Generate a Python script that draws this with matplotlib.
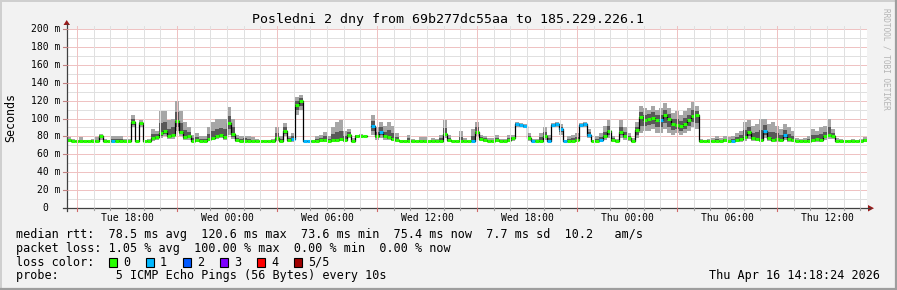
import numpy as np
import matplotlib
matplotlib.use("Agg")
import matplotlib.pyplot as plt
from matplotlib.patches import Rectangle, Polygon
from matplotlib.lines import Line2D
import matplotlib.transforms as mtrans

W, H, DPI = 897, 290, 100

# ---------------- data ----------------
title = "Posledni 2 dny from 69b277dc55aa to 185.229.226.1"
y_label = "Seconds"
window_hours = 48.0
start_hour = 14.4            # Tue 14:24
step_hours = 0.24            # one sample every 14.4 min
tick_labels = ["Tue 18:00", "Wed 00:00", "Wed 06:00", "Wed 12:00",
               "Wed 18:00", "Thu 00:00", "Thu 06:00", "Thu 12:00"]
first_label_hour = 18.0
y_tick_values = [0, 20, 40, 60, 80, 100, 120, 140, 160, 180, 200]
y_tick_labels = ["0", "20 m", "40 m", "60 m", "80 m", "100 m", "120 m",
                 "140 m", "160 m", "180 m", "200 m"]

nan = float("nan")
median_ms = [
    76, 75, 74.5, 74.5, 74.5, 74.5, 74.5, 74.5, 80, 75,
    74.5, 74.5, 74.5, 74.5, 74.5, 75, 96, 74.5, 95, 74.5,
    75, 78, 79, 84, 86, 81, 82, 97, 85, 79,
    80, 75, 76, 75, 75, 77, 78, 80, 82, 79,
    95, 83, 76, 74.5, 75, 74.5, 74.5, 74.5, 74.5, 74.5,
    74.5, 74.5, 78, 75, 86, 76, 77, 115, 120, 74.5,
    74.5, 74.5, 74.5, 75.5, 76, 75, 76, 76, 77, 76,
    82, 75, 81, 81, 81, nan, 92, 80, 85, 80,
    79, 77, 76, 74.5, 74.5, 74.5, 74.5, 74.5, 74.5, 74.5,
    74.5, 74.5, 74.5, 75, 83, 76, 74.5, 74.5, 74.5, 74.5,
    74.5, 75, 85, 77, 76, 75, 74.5, 76, 74.5, 74.5,
    76, 78, 94, 93, 92, 78, 74.5, 74.5, 75, 80,
    75, 93, 94, 88, 74.5, 74.5, 75, 76, 93, 94,
    82, 74.5, 74.5, 76, 80, 86, 76, 74.5, 85, 80,
    78, 75, 87, 102, 98, 100, 101, 98, 98, 104,
    99, 94, 93, 92, 94, 98, 103, 104, 74.5, 74.5,
    74.5, 74.5, 74.5, 74.5, 75.5, 74.5, 75, 75.5, 77, 79,
    85, 78, 77, 76, 86, 78, 76, 77, 76, 82,
    77, 76, 74.5, 74.5, 74.5, 75, 76, 77, 76, 80,
    82, 81, 74.5, 74.5, 74.5, 74.5, 74.5, 74.5, 74.5, 75.5,
]
smoke_hi_ms = [
    79, 77, 76, 79, 76, 76, 77, 79, 83, 77,
    76, 80, 81, 80, 77, 77, 104, 76, 98, 76,
    77, 88, 86, 108, 108, 98, 100, 119, 108, 96,
    90, 82, 84, 80, 80, 90, 96, 99, 99, 100,
    113, 100, 82, 81, 81, 80, 79, 77, 76, 76,
    76, 77, 90, 80, 95, 80, 84, 124, 126, 76,
    76, 76, 80, 82, 85, 80, 90, 96, 98, 86,
    88, 78, 82, 83, 84, nan, 104, 90, 96, 92,
    96, 92, 84, 76, 76, 82, 77, 76, 79, 79,
    76, 78, 77, 82, 98, 82, 76, 76, 86, 78,
    76, 88, 96, 82, 80, 78, 78, 82, 77, 77,
    82, 82, 96, 95, 94, 84, 77, 77, 84, 90,
    82, 95, 96, 94, 76, 80, 82, 84, 95, 96,
    88, 76, 80, 84, 92, 98, 80, 77, 98, 90,
    84, 78, 96, 114, 112, 110, 114, 110, 112, 117,
    112, 106, 108, 104, 108, 112, 118, 114, 77, 76,
    77, 78, 80, 78, 80, 79, 80, 84, 86, 96,
    98, 92, 94, 100, 100, 94, 96, 92, 88, 94,
    90, 86, 78, 77, 78, 80, 88, 86, 90, 92,
    100, 88, 78, 77, 76, 76, 77, 76, 77, 79,
]
smoke_lo_ms = [
    74, 73.8, 73.8, 73.8, 73.8, 73.8, 73.8, 73.8, 76, 73.8,
    73.8, 73.8, 73.8, 73.8, 73.8, 73.8, 90, 73.8, 90, 73.8,
    73.8, 75, 76, 78, 80, 77, 77, 86, 80, 76,
    76, 74, 74, 73.8, 73.8, 75, 76, 77, 78, 76,
    82, 77, 74, 73.8, 73.8, 73.8, 73.8, 73.8, 73.8, 73.8,
    73.8, 73.8, 75, 73.8, 80, 74, 74, 104, 110, 73.8,
    73.8, 73.8, 73.8, 74, 74, 73.8, 74, 74, 75, 74,
    78, 74, 79, 79, 79, nan, 82, 76, 78, 76,
    76, 75, 74, 73.8, 73.8, 73.8, 73.8, 73.8, 73.8, 73.8,
    73.8, 73.8, 73.8, 73.8, 78, 74, 73.8, 73.8, 73.8, 73.8,
    73.8, 73.8, 80, 75, 74, 73.8, 73.8, 74, 73.8, 73.8,
    74, 75, 90, 90, 89, 75, 73.8, 73.8, 74, 76,
    74, 90, 91, 82, 73.8, 73.8, 74, 74, 90, 91,
    78, 73.8, 73.8, 74, 76, 78, 74, 73.8, 78, 76,
    75, 74, 78, 84, 86, 86, 88, 84, 84, 88,
    84, 82, 84, 82, 84, 86, 90, 88, 73.8, 73.8,
    73.8, 73.8, 73.8, 73.8, 74, 73.8, 73.8, 74, 74, 75,
    77, 75, 75, 74, 78, 75, 74, 74, 74, 76,
    74, 74, 73.8, 73.8, 73.8, 73.8, 74, 74, 74, 76,
    77, 77, 73.8, 73.8, 73.8, 73.8, 73.8, 73.8, 73.8, 74,
]
lost_pings = [
    0, 0, 0, 0, 0, 0, 0, 0, 0, 0, 0, 1, 0, 0, 0, 0, 0, 0, 0, 0,
    0, 0, 0, 0, 0, 0, 0, 0, 0, 0, 0, 0, 0, 0, 0, 0, 0, 0, 0, 0,
    0, 0, 0, 0, 0, 0, 0, 0, 0, 0, 0, 0, 0, 0, 0, 0, 1, 0, 0, 1,
    1, 0, 0, 0, 0, 0, 0, 0, 0, 0, 0, 0, 0, 0, 0, 5, 1, 0, 1, 0,
    0, 0, 0, 0, 0, 0, 0, 0, 0, 0, 0, 0, 0, 0, 0, 0, 0, 0, 0, 0,
    0, 1, 0, 0, 0, 0, 0, 0, 0, 0, 0, 0, 1, 1, 1, 0, 1, 0, 0, 0,
    1, 1, 1, 1, 1, 0, 0, 0, 1, 1, 1, 0, 0, 1, 0, 0, 0, 0, 0, 0,
    0, 0, 0, 0, 0, 0, 0, 0, 1, 0, 0, 0, 0, 0, 0, 0, 0, 0, 0, 0,
    0, 0, 0, 0, 0, 0, 1, 0, 0, 0, 0, 0, 0, 0, 1, 0, 0, 0, 0, 1,
    0, 0, 0, 0, 0, 0, 0, 0, 0, 0, 0, 0, 0, 0, 0, 0, 0, 0, 0, 0,
]
loss_labels = ["0", "1", "2", "3", "4", "5/5"]
loss_colors = ["#26ff00", "#00b8ff", "#0059ff", "#7e00ff", "#ff0000", "#a00000"]

legend_lines = [
    "median rtt:  78.5 ms avg  120.6 ms max  73.6 ms min  75.4 ms now  7.7 ms sd  10.2   am/s",
    "packet loss: 1.05 % avg  100.00 % max  0.00 % min  0.00 % now",
    "loss color:",
    "probe:        5 ICMP Echo Pings (56 Bytes) every 10s",
]
stamp = "Thu Apr 16 14:18:24 2026"
watermark = "RRDTOOL / TOBI OETIKER"

# ---------------- drawing ----------------
MONO = "DejaVu Sans Mono"
BG = "#f2f2f2"

def fx(px):
    return px / W

def fy(py):
    return 1.0 - py / H

fig = plt.figure(figsize=(W / DPI, H / DPI), dpi=DPI, facecolor=BG)

# plot area: x 67..867, y 29..208 (px)
X0, X1, Y0, Y1 = 67, 867, 208, 29
ax = fig.add_axes([fx(X0), fy(Y0), (X1 - X0) / W, (Y0 - Y1) / H])
ax.set_facecolor("white")
ax.set_xlim(0, window_hours)
ax.set_ylim(0, 200)
for s in ax.spines.values():
    s.set_visible(False)
ax.set_xticks([])
ax.set_yticks([])

# grid (light, to mimic 1px dotted lines)
grid_offset = np.ceil(start_hour) - start_hour        # first full hour
hour_marks = grid_offset + np.arange(0, int(window_hours))
minor_c, major_c = "#e0e0e0", "#efc2c2"

def is_major(t):
    return (int(round(start_hour + t)) % 6) == 3

tx = mtrans.blended_transform_factory(ax.transData, fig.transFigure)
ty = mtrans.blended_transform_factory(fig.transFigure, ax.transData)
for t in hour_marks:
    c = major_c if is_major(t) else minor_c
    fig.add_artist(Line2D([t, t], [fy(26), fy(208)], transform=tx, color=c,
                          lw=0.72, zorder=0.5))
for v in range(10, 201, 10):
    c = major_c if v % 20 == 0 else minor_c
    ax.axhline(v, color=c, lw=0.72, zorder=1)

m = np.array(median_ms, dtype=float)
hi = np.array(smoke_hi_ms, dtype=float)
lo = np.array(smoke_lo_ms, dtype=float)
loss = np.array(lost_pings)
n = len(m)
edges = np.arange(n + 1) * step_hours

def ext(a):
    return np.append(a, a[-1])

# smoke: light envelope + darker core around the median
ax.fill_between(edges, ext(lo), ext(hi), step="post", color="#a6a6a6",
                lw=0, zorder=2)
core_lo = m - 0.55 * (m - lo)
core_hi = m + 0.45 * (hi - m)
ax.fill_between(edges, ext(core_lo), ext(core_hi), step="post",
                color="#585858", lw=0, zorder=3)

# median: black connectors + loss coloured segments
ax.plot(edges, ext(m), drawstyle="steps-post", color="black", lw=0.9,
        zorder=4)
seg_cols = [loss_colors[min(int(l), 5)] for l in loss]
ax.hlines(m, edges[:-1], edges[1:], colors=seg_cols, lw=2.2, zorder=5)

# axis lines and arrows (pixel coordinates on the figure)
axis_c = "#404040"
fig.add_artist(Line2D([fx(63), fx(870)], [fy(208), fy(208)], color=axis_c,
                      lw=0.9))
fig.add_artist(Line2D([fx(66.5), fx(66.5)], [fy(211), fy(24)], color=axis_c,
                      lw=0.9))
arrow_c = "#9a1a1a"
fig.add_artist(Polygon([[fx(63.5), fy(25)], [fx(70), fy(25)], [fx(66.7), fy(20)]],
                       closed=True, color=arrow_c, lw=0))
fig.add_artist(Polygon([[fx(868), fy(205)], [fx(868), fy(211.5)], [fx(874), fy(208.2)]],
                       closed=True, color=arrow_c, lw=0))

# tick marks on the axes
for t in hour_marks:
    L = 3 if is_major(t) else 2
    fig.add_artist(Line2D([t, t], [fy(208), fy(208 + L)], transform=tx,
                          color="#d06a6a" if is_major(t) else "#a0a0a0", lw=0.8))
for v in y_tick_values[1:]:
    fig.add_artist(Line2D([fx(63), fx(66.5)], [v, v], transform=ty,
                          color="#c08080", lw=0.8))

# x labels
for k, lab in enumerate(tick_labels):
    t = first_label_hour - start_hour + 6 * k
    fig.text(t, fy(218), lab, transform=tx, ha="center", va="center",
             fontsize=7, family=MONO, color="black")
# y labels
for v, lab in zip(y_tick_values, y_tick_labels):
    xr = 60 if lab.endswith("m") else 60 - 2 * 5.85
    fig.text(fx(xr), v, lab, transform=ty, ha="right", va="center",
             fontsize=7, family=MONO, color="black")

# title, axis label, watermark
fig.text(fx(448), fy(19), title, ha="center", va="center", fontsize=9.5,
         family=MONO, color="black")
fig.text(fx(10.5), fy(117), y_label, ha="center", va="center", rotation=90,
         fontsize=8.4, family=MONO, color="black")
fig.text(fx(886), fy(59), watermark, ha="center", va="center", rotation=270,
         fontsize=5.6, family=MONO, color="#b4b4b4")

# legend block
line_y = [234.3, 248.3, 262.3, 276.0]
for s, yy in zip(legend_lines, line_y):
    fig.text(fx(16), fy(yy), s, ha="left", va="center", fontsize=8.5,
             family=MONO, color="black")
for k, (lab, col) in enumerate(zip(loss_labels, loss_colors)):
    bx = 108.5 + 37 * k
    fig.add_artist(Rectangle((fx(bx), fy(266.5)), 8.5 / W, 8.3 / H,
                             facecolor=col, edgecolor="black", lw=0.8))
    fig.text(fx(bx + 14.5), fy(262.3), lab, ha="left", va="center",
             fontsize=8.5, family=MONO, color="black")
fig.text(fx(880), fy(276.0), stamp, ha="right", va="center", fontsize=8.5,
         family=MONO, color="black")

# outer frame shading
fig.add_artist(Line2D([0, 1], [fy(0.5), fy(0.5)], color="#cfcfcf", lw=1.4))
fig.add_artist(Line2D([fx(0.5), fx(0.5)], [0, 1], color="#cfcfcf", lw=1.4))
fig.add_artist(Line2D([0, 1], [fy(289), fy(289)], color="#9e9e9e", lw=1.6))
fig.add_artist(Line2D([fx(896), fx(896)], [0, 1], color="#9e9e9e", lw=1.6))

fig.savefig("out.png", dpi=DPI, facecolor=BG)
